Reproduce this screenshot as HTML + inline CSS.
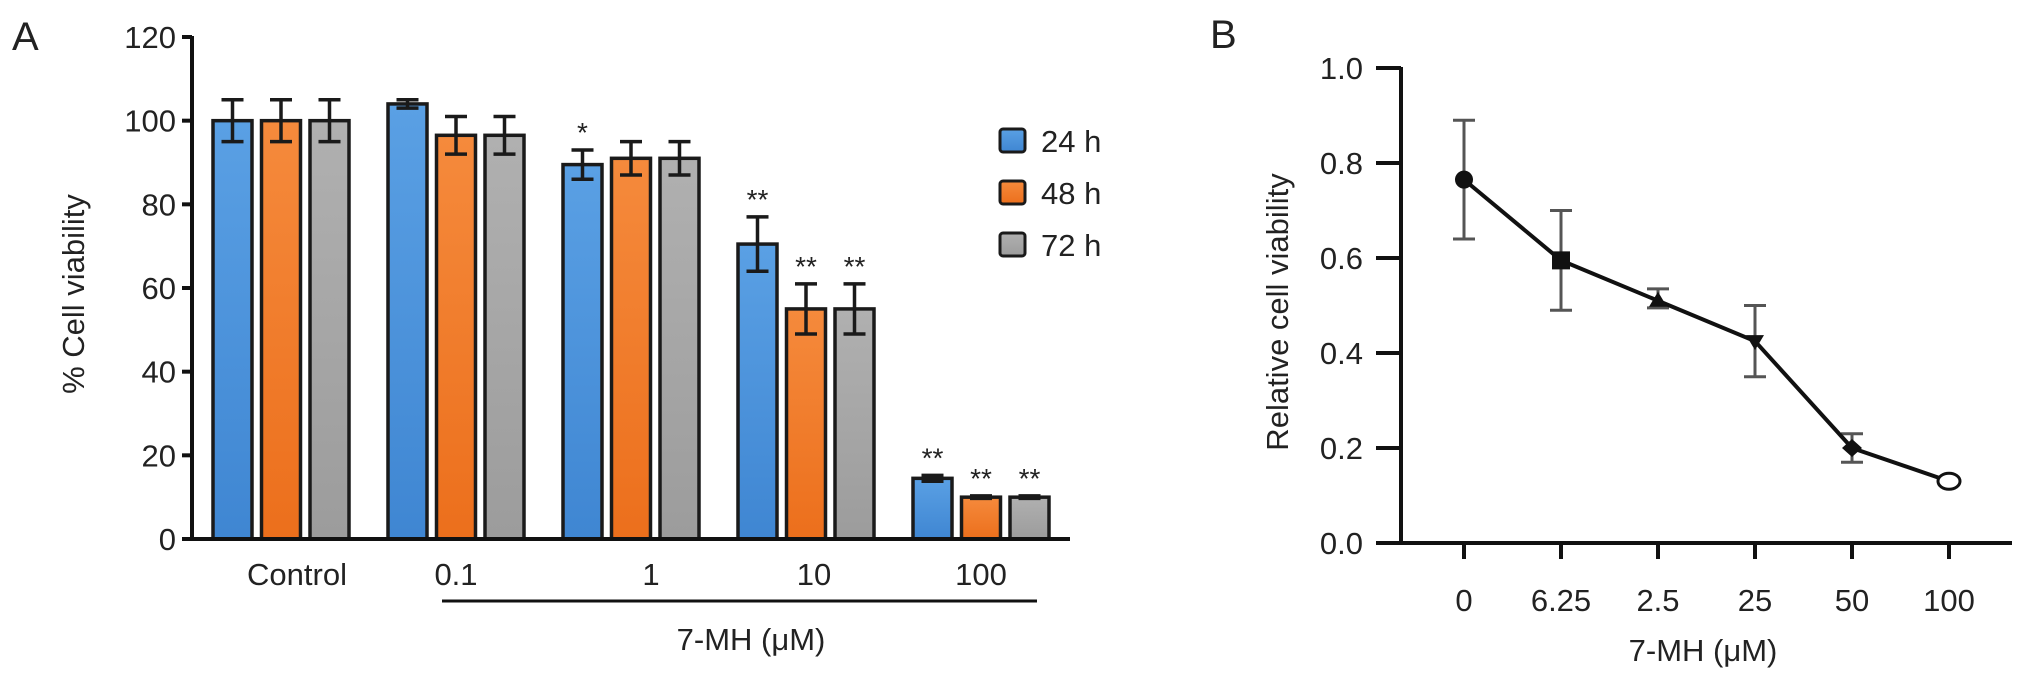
<!DOCTYPE html>
<html><head><meta charset="utf-8"><style>
body{margin:0;background:#fff}
svg{display:block}
text{font-family:"Liberation Sans",sans-serif;fill:#222}
</style></head><body>
<svg id="fig" width="2032" height="679" viewBox="0 0 2032 679" xmlns="http://www.w3.org/2000/svg">
<defs>
<linearGradient id="gb" x1="0" y1="0" x2="0" y2="1"><stop offset="0" stop-color="#5aa0e4"/><stop offset="1" stop-color="#3f86d2"/></linearGradient>
<linearGradient id="go" x1="0" y1="0" x2="0" y2="1"><stop offset="0" stop-color="#f58a3c"/><stop offset="1" stop-color="#ec6f1c"/></linearGradient>
<linearGradient id="gg" x1="0" y1="0" x2="0" y2="1"><stop offset="0" stop-color="#b0b0b0"/><stop offset="1" stop-color="#9c9c9c"/></linearGradient>
</defs>
<g id="A"></g>
<g id="B"></g>
</svg>
<script>
// ---- Panel A data ----
const aCategories = ["Control","0.1","1","10","100"];
const aSeries = ["24 h","48 h","72 h"];
const a24 = [100,104,89.5,70.5,14.5];
const a48 = [100,96.5,91,55,10];
const a72 = [100,96.5,91,55,10];
const aErr24 = [5,1,3.5,6.5,0.7];
const aErr48 = [5,4.5,4,6,0.3];
const aErr72 = [5,4.5,4,6,0.3];
const aStars24 = ["","","*","**","**"];
const aStars48 = ["","","","**","**"];
const aStars72 = ["","","","**","**"];
const aTicks = [0,20,40,60,80,100,120];
// ---- Panel B data ----
const bCategories = ["0","6.25","2.5","25","50","100"];
const bValues = [0.765,0.595,0.51,0.425,0.2,0.13];
const bErrLo = [0.64,0.49,0.495,0.35,0.17,0.13];
const bErrHi = [0.89,0.70,0.535,0.50,0.23,0.13];
const bMarkers = ["circle","square","tri-up","tri-down","diamond","open-circle"];
const bTicks = ["0.0","0.2","0.4","0.6","0.8","1.0"];

const NS="http://www.w3.org/2000/svg";
function mk(parent,tag,attrs,txt){const e=document.createElementNS(NS,tag);for(const k in attrs)e.setAttribute(k,attrs[k]);if(txt!==undefined)e.textContent=txt;parent.appendChild(e);return e;}

// ---- Panel A ----
const A=document.getElementById('A');
const ax0=192, ay0=539, ayTop=37, aMax=120;
const ay=v=>ay0-(v/aMax)*(ay0-ayTop);
const groupStart=213, groupStep=175, barW=39, barStep=48.5;
const ax=(g,s)=>groupStart+g*groupStep+s*barStep;
let t=mk(A,'text',{x:12,y:50,'font-size':40});
t.textContent='A';
let l=mk(A,'line',{x1:ax0,y1:ayTop-1,x2:ax0,y2:ay0,stroke:'#111','stroke-width':4});

aTicks.forEach(v=>{
  const tk=mk(A,'line',{x1:ax0-10,y1:ay(v),x2:ax0,y2:ay(v),stroke:'#111','stroke-width':4});
  
  const tl=mk(A,'text',{x:ax0-16,y:ay(v)+11,'font-size':31,'text-anchor':'end'},String(v));
  
});
t=mk(A,'text',{x:0,y:0,'font-size':31,'text-anchor':'middle',transform:'translate(84,294) rotate(-90)'},'% Cell viability');

const vals=[a24,a48,a72], errs=[aErr24,aErr48,aErr72], stars=[aStars24,aStars48,aStars72], fills=['url(#gb)','url(#go)','url(#gg)'];
aCategories.forEach((c,g)=>{
  for(let s=0;s<3;s++){
    const v=vals[s][g], x=ax(g,s);
    const r=mk(A,'rect',{x:x,y:ay(v),width:barW,height:ay0-ay(v),fill:fills[s],stroke:'#1a1a1a','stroke-width':3.5});
    
    
    const cx=x+barW/2, e=errs[s][g];
    const eb=mk(A,'path',{d:`M${cx},${ay(v+e)}V${ay(v-e)}M${cx-11},${ay(v+e)}H${cx+11}M${cx-11},${ay(v-e)}H${cx+11}`,stroke:'#1a1a1a','stroke-width':3.5,fill:'none'});
    
    if(stars[s][g]){
      const st=mk(A,'text',{x:cx,y:ay(v+e)-8,'font-size':28,'text-anchor':'middle'},stars[s][g]);
      
    }
  }
  const lab=mk(A,'text',{x:ax(g,1)+barW/2+(g===0?16:g===2?20:g===3?8:0),y:585,'font-size':31,'text-anchor':'middle'},c);
  
});
l=mk(A,'line',{x1:ax0-2,y1:ay0,x2:1070,y2:ay0,stroke:'#111','stroke-width':4});

l=mk(A,'line',{x1:442,y1:601,x2:1037,y2:601,stroke:'#111','stroke-width':3});

t=mk(A,'text',{x:751,y:650,'font-size':31,'text-anchor':'middle'},'7-MH (\u03bcM)');

aSeries.forEach((s,i)=>{
  const y=129+i*52;
  const r=mk(A,'rect',{x:1000,y:y,width:25,height:23,rx:3,fill:fills[i],stroke:'#1a1a1a','stroke-width':3});
  
  const tx=mk(A,'text',{x:1041,y:y+23,'font-size':31},s);
  
});

// ---- Panel B ----
const B=document.getElementById('B');
const bx0=1401, by0=543, byTop=68;
const by=v=>by0-v*(by0-byTop);
const bx=i=>1464+i*97;
t=mk(B,'text',{x:1210,y:48,'font-size':40},'B');

l=mk(B,'line',{x1:bx0,y1:byTop-1,x2:bx0,y2:by0,stroke:'#111','stroke-width':4});

bTicks.forEach(s=>{
  const v=parseFloat(s);
  const tk=mk(B,'line',{x1:bx0-25,y1:by(v),x2:bx0,y2:by(v),stroke:'#111','stroke-width':4});
  
  const tl=mk(B,'text',{x:bx0-38,y:by(v)+11,'font-size':31,'text-anchor':'end'},s);
  
});
l=mk(B,'line',{x1:bx0-25,y1:by0,x2:2012,y2:by0,stroke:'#111','stroke-width':4});

t=mk(B,'text',{x:0,y:0,'font-size':31,'text-anchor':'middle',transform:'translate(1288,312) rotate(-90)'},'Relative cell viability');

bCategories.forEach((c,i)=>{
  const tk=mk(B,'line',{x1:bx(i),y1:by0,x2:bx(i),y2:by0+16,stroke:'#111','stroke-width':4});
  
  const tl=mk(B,'text',{x:bx(i),y:611,'font-size':31,'text-anchor':'middle'},c);
  
});
t=mk(B,'text',{x:1703,y:661,'font-size':31,'text-anchor':'middle'},'7-MH (\u03bcM)');

bCategories.forEach((c,i)=>{
  if(bErrHi[i]-bErrLo[i]>0.005){
    const x=bx(i);
    const eb=mk(B,'path',{d:`M${x},${by(bErrHi[i])}V${by(bErrLo[i])}M${x-11},${by(bErrHi[i])}H${x+11}M${x-11},${by(bErrLo[i])}H${x+11}`,stroke:'#555','stroke-width':3,fill:'none'});
    
  }
});
const pl=mk(B,'polyline',{points:bValues.map((v,i)=>bx(i)+','+by(v)).join(' '),fill:'none',stroke:'#111','stroke-width':4});

bValues.forEach((v,i)=>{
  const x=bx(i), y=by(v), m=bMarkers[i]; let e;
  if(m==='circle') e=mk(B,'circle',{cx:x,cy:y,r:9,fill:'#111'});
  else if(m==='square') e=mk(B,'rect',{x:x-9,y:y-9,width:18,height:18,fill:'#111'});
  else if(m==='tri-up') e=mk(B,'path',{d:`M${x},${y-9}L${x+9},${y+6}L${x-9},${y+6}Z`,fill:'#111'});
  else if(m==='tri-down') e=mk(B,'path',{d:`M${x},${y+9}L${x+9},${y-6}L${x-9},${y-6}Z`,fill:'#111'});
  else if(m==='diamond') e=mk(B,'path',{d:`M${x},${y-9}L${x+10},${y}L${x},${y+9}L${x-10},${y}Z`,fill:'#111'});
  else e=mk(B,'ellipse',{cx:x,cy:y,rx:11,ry:8,fill:'#fff',stroke:'#111','stroke-width':3});
  
  
});
</script>
</body></html>
